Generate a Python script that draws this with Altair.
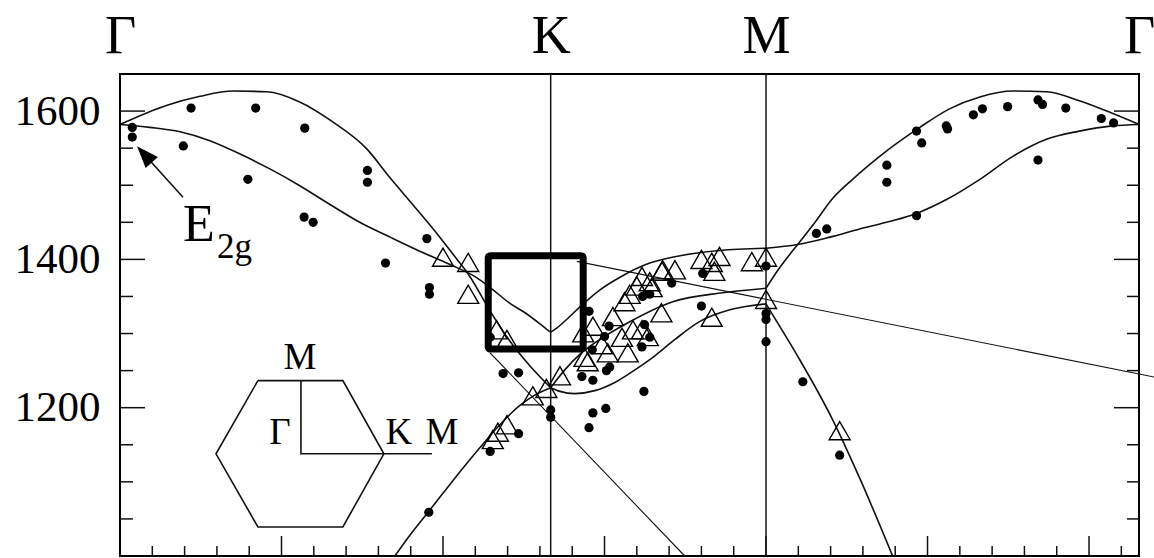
import altair as alt
import pandas as pd

# ---------------------------------------------------------------------------
# Path through the Brillouin zone, in units of 2*pi/a
# ---------------------------------------------------------------------------
K_PT = 2 / 3
M_PT = 1.0
G_END = 1 + 3 ** -0.5

SYM_POS = [0.0, K_PT, M_PT, G_END]
SYM_LAB = ["Γ", "K", "M", "Γ"]

Y_LABELS = [1200, 1400, 1600]

# ---------------------------------------------------------------------------
# Calculated optical branches (cm^-1), one list pair per segment
# ---------------------------------------------------------------------------
TO_GK_X = [0.0, 0.046, 0.093, 0.139, 0.186, 0.232, 0.279, 0.325, 0.371, 0.418,
           0.464, 0.511, 0.549, 0.576, 0.603, 0.627, 0.650, 0.660, K_PT]
TO_GK_Y = [1582, 1578, 1572, 1560, 1542, 1522, 1499, 1474, 1450, 1430,
           1411, 1393, 1377, 1360, 1341, 1328, 1313, 1306, 1302]

TO_KM_X = [K_PT, 0.677, 0.695, 0.712, 0.743, 0.774, 0.820, 0.867, 0.928, M_PT]
TO_KM_Y = [1302, 1308, 1322, 1336, 1359, 1376, 1395, 1405, 1412, 1415]

TO_MG_X = [M_PT, 1.049, 1.099, 1.145, 1.191, 1.233, 1.280, 1.331, 1.382, 1.434,
           1.485, 1.536, G_END]
TO_MG_Y = [1415, 1420, 1430, 1441, 1451, 1462, 1481, 1508, 1539, 1562,
           1573, 1580, 1582]

LO_GK_X = [0.0, 0.073, 0.124, 0.175, 0.227, 0.279, 0.330, 0.382, 0.418, 0.453,
           0.495, 0.520, 0.5415, 0.5725, 0.6034, 0.634, K_PT]
LO_GK_Y = [1582, 1608, 1620, 1627, 1626, 1612, 1585, 1549, 1510, 1474,
           1430, 1402, 1377, 1331, 1290, 1257, 1227]

LA_GK_X = [0.4255, 0.4487, 0.4797, 0.5183, 0.557, 0.588, 0.619, 0.642, K_PT]
LA_GK_Y = [1000, 1028, 1062, 1105, 1146, 1177, 1203, 1217, 1227]

MID_KM_X = [K_PT, 0.6885, 0.7117, 0.7427, 0.7891, 0.8556, 0.933, M_PT]
MID_KM_Y = [1227, 1251, 1272, 1292, 1316, 1343, 1355, 1361]

LOW_KM_X = [K_PT, 0.681, 0.704, 0.735, 0.766, 0.797, 0.828, 0.859, 0.897, 0.944, M_PT]
LOW_KM_Y = [1227, 1222, 1219, 1223, 1234, 1251, 1270, 1292, 1316, 1332, 1340]

LO_MG_X = [M_PT, 1.018, 1.037, 1.049, 1.075, 1.103, 1.134, 1.176, 1.238, 1.284,
           1.331, 1.382, 1.434, 1.485, 1.536, G_END]
LO_MG_Y = [1361, 1385, 1407, 1420, 1449, 1482, 1508, 1539, 1578, 1603,
           1619, 1627, 1626, 1614, 1597, 1582]

LA_MG_X = [M_PT, 1.021, 1.052, 1.103, 1.145, 1.196]
LA_MG_Y = [1340, 1310, 1265, 1184, 1105, 1000]

# ---------------------------------------------------------------------------
# Measured frequencies: filled circles and open triangles
# ---------------------------------------------------------------------------
DOT_X = [0.019, 0.019, 0.110, 0.098, 0.210, 0.198, 0.286, 0.383, 0.383, 0.285,
         0.299, 0.411, 0.475, 0.479, 0.479, 0.573, 0.593, 0.617, 0.617, 0.573,
         0.478, K_PT, K_PT,
         0.715, 0.732, 0.753, 0.758, 0.811, 0.732, 0.752, 0.726, 0.726, 0.757,
         0.750, 0.731, 0.809, 0.820, 0.812, 0.820, 0.808, 0.854, 0.902, 0.900,
         M_PT, M_PT, M_PT, M_PT,
         1.233, 1.241, 1.187, 1.187, 1.279, 1.281, 1.321, 1.335, 1.374, 1.421,
         1.428, 1.464, 1.519, 1.538, 1.421, 1.233, 1.078, 1.094, 1.057, 1.114]
DOT_Y = [1578, 1565, 1604, 1553, 1604, 1508, 1577, 1520, 1504, 1457,
         1450, 1395, 1428, 1362, 1353, 1295, 1246, 1247, 1165, 1141,
         1059, 1197, 1187,
         1242, 1237, 1250, 1255, 1222, 1193, 1199, 1173, 1330, 1310,
         1296, 1278, 1350, 1353, 1312, 1295, 1282, 1368, 1381, 1337,
         1391, 1327, 1319, 1289,
         1573, 1557, 1527, 1504, 1580, 1576, 1595, 1603, 1606, 1615,
         1609, 1604, 1590, 1584, 1534, 1459, 1435, 1441, 1235, 1136]

TRI_X = [0.500, 0.539, 0.539, 0.583, 0.599, 0.577, 0.585, 0.599, 0.639, 0.660,
         0.681, 0.719, 0.717, 0.732, 0.746, 0.763, 0.755, 0.777, 0.789, 0.800,
         0.794, 0.808, 0.781, 0.820, 0.840, 0.859, 0.900, 0.916, 0.928, 0.920,
         0.978, M_PT, M_PT, 0.916, 0.817, 0.838, 0.786, 0.724, 0.839, 0.823,
         0.808, 1.114]
TRI_Y = [1403, 1396, 1353, 1305, 1292, 1157, 1167, 1177, 1216, 1226,
         1243, 1268, 1301, 1310, 1285, 1323, 1274, 1295, 1353, 1364,
         1305, 1377, 1343, 1370, 1386, 1386, 1400, 1396, 1404, 1384,
         1397, 1403, 1346, 1322, 1296, 1328, 1274, 1262, 1384, 1362,
         1305, 1169]

# ---------------------------------------------------------------------------
W, H = 1019, 482
SERIF = "Liberation Serif"
INK = "#111111"

xs = alt.Scale(domain=[0, G_END], nice=False, zero=False)
ys = alt.Scale(domain=[1000, 1650], nice=False, zero=False)

top_axis = alt.Axis(
    orient="top", values=SYM_POS, title=None, ticks=False, domain=False, grid=False,
    labelExpr="datum.value < 0.3 ? 'Γ' : datum.value < 0.8 ? 'K' : datum.value < 1.2 ? 'M' : 'Γ'",
    labelFont=SERIF, labelFontSize=54, labelColor="black", labelPadding=22,
    labelBaseline="alphabetic", labelFlush=False, labelOverlap=False, labelBound=False,
)
left_axis = alt.Axis(
    orient="left", values=Y_LABELS, title=None, ticks=False, domain=False, grid=False,
    labelFont=SERIF, labelFontSize=43, labelColor="black", labelPadding=20,
    format="d", labelFlush=False, labelOverlap=False, labelBound=False,
)


def X(field="x"):
    return alt.X(f"{field}:Q", scale=xs, axis=top_axis)


def Y(field="y"):
    return alt.Y(f"{field}:Q", scale=ys, axis=left_axis)


# branch table
segments = [
    ("to_gk", TO_GK_X, TO_GK_Y), ("to_km", TO_KM_X, TO_KM_Y), ("to_mg", TO_MG_X, TO_MG_Y),
    ("lo_gk", LO_GK_X, LO_GK_Y), ("la_gk", LA_GK_X, LA_GK_Y),
    ("mid_km", MID_KM_X, MID_KM_Y), ("low_km", LOW_KM_X, LOW_KM_Y),
    ("lo_mg", LO_MG_X, LO_MG_Y), ("la_mg", LA_MG_X, LA_MG_Y),
]
rows = []
for name, xv, yv in segments:
    for i, (a, b) in enumerate(zip(xv, yv)):
        rows.append({"seg": name, "o": i, "x": a, "y": b})
branches = pd.DataFrame(rows)

curves = alt.Chart(branches).mark_line(
    interpolate="monotone", color=INK, strokeWidth=1.6, clip=True
).encode(x=X(), y=Y(), detail="seg:N", order="o:Q")

# vertical lines at K and M
sym_lines = alt.Chart(pd.DataFrame({"x": [K_PT, M_PT]})).mark_rule(
    color=INK, strokeWidth=1.5
).encode(x=X(), y=alt.value(0), y2=alt.value(H))

# inward ticks on the bottom edge (every 0.05, longer every 0.25)
xt = [round(0.05 * n, 2) for n in range(1, 32)]
xt_major = pd.DataFrame({"x": [v for v in xt if abs(v / 0.25 - round(v / 0.25)) < 1e-6]})
xt_minor = pd.DataFrame({"x": [v for v in xt if abs(v / 0.25 - round(v / 0.25)) >= 1e-6]})
bt_major = alt.Chart(xt_major).mark_rule(color=INK, strokeWidth=1.5).encode(
    x=X(), y=alt.value(H - 20), y2=alt.value(H))
bt_minor = alt.Chart(xt_minor).mark_rule(color=INK, strokeWidth=1.5).encode(
    x=X(), y=alt.value(H - 10), y2=alt.value(H))

# inward ticks on the left and right edges (every 50, longer every 200)
yt = list(range(1050, 1650, 50))
yt_major = pd.DataFrame({"y": [v for v in yt if v in Y_LABELS]})
yt_minor = pd.DataFrame({"y": [v for v in yt if v not in Y_LABELS]})
lt_major = alt.Chart(yt_major).mark_rule(color=INK, strokeWidth=1.5).encode(
    y=Y(), x=alt.value(0), x2=alt.value(25))
lt_minor = alt.Chart(yt_minor).mark_rule(color=INK, strokeWidth=1.5).encode(
    y=Y(), x=alt.value(0), x2=alt.value(13))
rt_major = alt.Chart(yt_major).mark_rule(color=INK, strokeWidth=1.5).encode(
    y=Y(), x=alt.value(W - 25), x2=alt.value(W))
rt_minor = alt.Chart(yt_minor).mark_rule(color=INK, strokeWidth=1.5).encode(
    y=Y(), x=alt.value(W - 12), x2=alt.value(W))

# measurements
dots = alt.Chart(pd.DataFrame({"x": DOT_X, "y": DOT_Y})).mark_point(
    shape="circle", filled=True, size=85, color="black", opacity=1
).encode(x=X(), y=Y())
tris = alt.Chart(pd.DataFrame({"x": TRI_X, "y": TRI_Y})).mark_point(
    shape="triangle-up", filled=False, size=441, color="black", strokeWidth=1.4, opacity=1
).encode(x=X(), y=Y())

# highlight box around the K-point anomaly and its guide lines
box = alt.Chart(pd.DataFrame({"x": [0.570], "x2": [0.717], "y": [1279], "y2": [1405]})).mark_rect(
    fillOpacity=0, stroke="black", strokeWidth=7, cornerRadius=2
).encode(x=X(), x2="x2:Q", y=Y(), y2="y2:Q")

guides = pd.DataFrame({
    "seg": ["a", "a", "b", "b"],
    "o": [0, 1, 0, 1],
    "x": [0.7071, 1.6176, 0.5725, 0.8742],
    "y": [1397.3, 1238.4, 1274.3, 1000.0],
})
guide_lines = alt.Chart(guides).mark_line(color=INK, strokeWidth=1.1, clip=False).encode(
    x=X(), y=Y(), detail="seg:N", order="o:Q")

# Brillouin-zone sketch
hexagon = pd.DataFrame({
    "seg": ["hex"] * 7 + ["path"] * 3,
    "o": list(range(7)) + list(range(3)),
    "x": [0.2135, 0.3450, 0.4085, 0.3450, 0.2135, 0.1486, 0.2135, 0.2801, 0.2801, 0.4828],
    "y": [1236.5, 1236.5, 1137.8, 1039.2, 1039.2, 1137.8, 1236.5, 1236.5, 1137.8, 1137.8],
})
bz = alt.Chart(hexagon).mark_line(color=INK, strokeWidth=1.6).encode(
    x=X(), y=Y(), detail="seg:N", order="o:Q")

bz_text = pd.DataFrame({
    "x": [0.2785, 0.2476, 0.4317, 0.4982],
    "y": [1252.7, 1151.3, 1151.3, 1151.3],
    "t": ["M", "Γ", "K", "M"],
})
bz_labels = alt.Chart(bz_text).mark_text(
    font=SERIF, fontSize=37, color="black", align="center", baseline="alphabetic"
).encode(x=X(), y=Y(), text="t:N")

# E2g annotation with arrow
arrow_shaft = alt.Chart(pd.DataFrame({"x": [0.0975, 0.0402], "y": [1483.8, 1539.2]})).mark_line(
    color=INK, strokeWidth=1.6).encode(x=X(), y=Y())
arrow_head = alt.Chart(pd.DataFrame({"x": [0.0378], "y": [1541.6]})).mark_point(
    shape="M0,-1L-0.75,1L0.75,1Z", filled=True, size=484, angle=318, color="black", opacity=1
).encode(x=X(), y=Y())
e_main = alt.Chart(pd.DataFrame({"x": [0.1222], "y": [1424.3], "t": ["E"]})).mark_text(
    font=SERIF, fontSize=52, color="black", align="center", baseline="alphabetic"
).encode(x=X(), y=Y(), text="t:N")
e_sub = alt.Chart(pd.DataFrame({"x": [0.1501], "y": [1401.3], "t": ["2g"]})).mark_text(
    font=SERIF, fontSize=35, color="black", align="left", baseline="alphabetic"
).encode(x=X(), y=Y(), text="t:N")

chart = alt.layer(
    sym_lines, bt_major, bt_minor, lt_major, lt_minor, rt_major, rt_minor,
    curves, bz, guide_lines, tris, dots, box, bz_labels,
    arrow_shaft, arrow_head, e_main, e_sub,
).properties(
    width=W, height=H,
    autosize=alt.AutoSizeParams(type="none"),
    padding={"left": 120, "top": 74, "right": 15, "bottom": 2},
    background="white",
).configure_view(stroke="black", strokeWidth=2)

chart.save("out.html", embed_options={"renderer": "svg", "actions": False})
